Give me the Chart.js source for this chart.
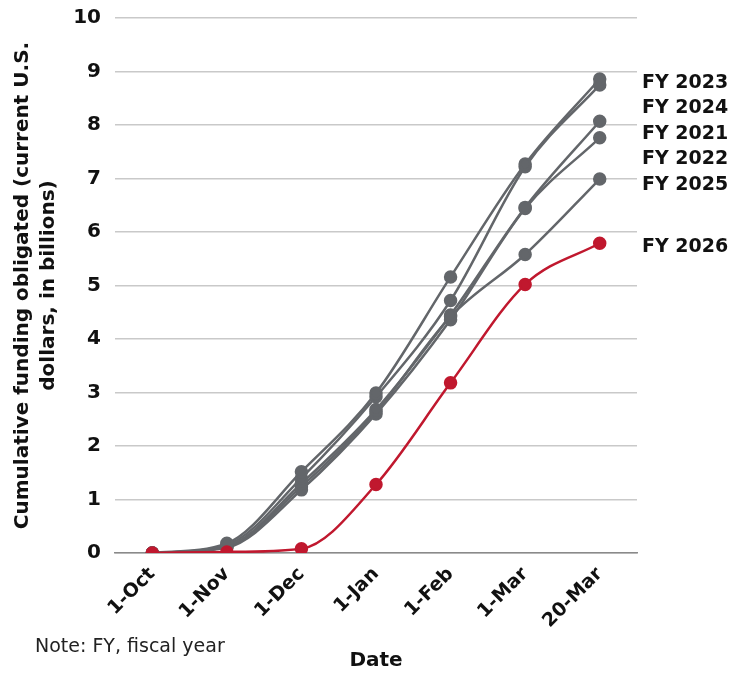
<!DOCTYPE html>
<html>
<head>
<meta charset="utf-8">
<script src="https://cdn.jsdelivr.net/npm/chart.js@4.4.1/dist/chart.umd.min.js"></script>
<style>
  html, body { margin: 0; padding: 0; background: #fff; }
  #wrap { width: 744px; height: 673px; position: relative; }
</style>
</head>
<body>
<div id="wrap"><canvas id="chart"></canvas></div>
<script>
const dates = ['1-Oct', '1-Nov', '1-Dec', '1-Jan', '1-Feb', '1-Mar', '20-Mar'];
const yTicks = [0, 1, 2, 3, 4, 5, 6, 7, 8, 9, 10];

const fy2023 = [0, 0.18, 1.52, 2.99, 5.16, 7.27, 8.86];
const fy2024 = [0, 0.15, 1.40, 2.92, 4.72, 7.22, 8.75];
const fy2021 = [0, 0.12, 1.30, 2.68, 4.45, 6.46, 8.07];
const fy2022 = [0, 0.10, 1.18, 2.60, 4.36, 6.44, 7.76];
const fy2025 = [0, 0.12, 1.24, 2.64, 4.42, 5.58, 6.99];
const fy2026 = [0, 0.02, 0.08, 1.28, 3.18, 5.02, 5.79];

const GRAY = '#63666a';
const RED = '#c0182e';
const FONT = "'DejaVu Sans', sans-serif";

const series = [
  { label: 'FY 2023', data: fy2023, color: GRAY },
  { label: 'FY 2024', data: fy2024, color: GRAY },
  { label: 'FY 2021', data: fy2021, color: GRAY },
  { label: 'FY 2022', data: fy2022, color: GRAY },
  { label: 'FY 2025', data: fy2025, color: GRAY },
  { label: 'FY 2026', data: fy2026, color: RED }
];

// labels at the right end of each line, pushed apart so they don't overlap
const endLabels = {
  id: 'endLabels',
  afterDatasetsDraw(chart) {
    const { ctx, scales: { y }, chartArea } = chart;
    const items = chart.data.datasets.map(ds => ({
      text: ds.label,
      y: y.getPixelForValue(ds.data[ds.data.length - 1]) + 4
    })).sort((a, b) => a.y - b.y);
    let prev = -Infinity;
    ctx.save();
    ctx.font = 'bold 19px ' + FONT;
    ctx.fillStyle = '#111';
    ctx.textBaseline = 'middle';
    items.forEach(it => {
      const yy = Math.max(it.y, prev + 25.5);
      ctx.fillText(it.text, chartArea.right + 5, yy);
      prev = yy;
    });
    ctx.restore();
  }
};

const note = {
  id: 'note',
  afterDraw(chart) {
    const { ctx } = chart;
    ctx.save();
    ctx.font = '19px ' + FONT;
    ctx.fillStyle = '#222';
    ctx.textBaseline = 'middle';
    ctx.fillText('Note: FY, fiscal year', 35, 647);
    ctx.restore();
  }
};

new Chart(document.getElementById('chart'), {
  type: 'line',
  data: {
    labels: dates,
    datasets: series.map(s => ({
      label: s.label,
      data: s.data,
      borderColor: s.color,
      backgroundColor: s.color,
      borderWidth: 2.5,
      pointRadius: 5.5,
      pointHoverRadius: 5.5,
      cubicInterpolationMode: 'monotone',
      order: s.color === RED ? 0 : 1
    }))
  },
  options: {
    responsive: true,
    maintainAspectRatio: false,
    animation: false,
    layout: { padding: { left: 10, right: 107, top: 18, bottom: 0 } },
    plugins: { legend: { display: false }, tooltip: { enabled: false } },
    scales: {
      x: {
        offset: true,
        grid: { display: false },
        border: { display: true, color: '#8a8a8a', width: 1.5 },
        ticks: {
          color: '#111',
          font: { family: FONT, size: 19, weight: 'bold' },
          minRotation: 45,
          maxRotation: 45,
          padding: 2
        },
        title: {
          display: true,
          text: 'Date',
          color: '#111',
          font: { family: FONT, size: 20, weight: 'bold' },
          padding: { top: 0, bottom: 0 }
        },
        afterFit(scale) { scale.height = 120; }
      },
      y: {
        min: 0,
        max: 10,
        afterBuildTicks(scale) { scale.ticks = yTicks.map(v => ({ value: v })); },
        grid: { color: '#c9c9c9', lineWidth: 1.5, drawTicks: false },
        border: { display: false },
        ticks: {
          color: '#111',
          font: { family: FONT, size: 20, weight: 'bold' },
          padding: 14
        },
        title: {
          display: true,
          text: ['Cumulative funding obligated (current U.S.', 'dollars, in billions)'],
          color: '#111',
          font: { family: FONT, size: 20, weight: 'bold', lineHeight: 1.3 },
          padding: { top: 0, bottom: 4 }
        },
        afterFit(scale) {
          scale.width = 105;
          scale.paddingTop = 0;
          scale.paddingBottom = 0;
        }
      }
    }
  },
  plugins: [endLabels, note]
});
</script>
</body>
</html>
